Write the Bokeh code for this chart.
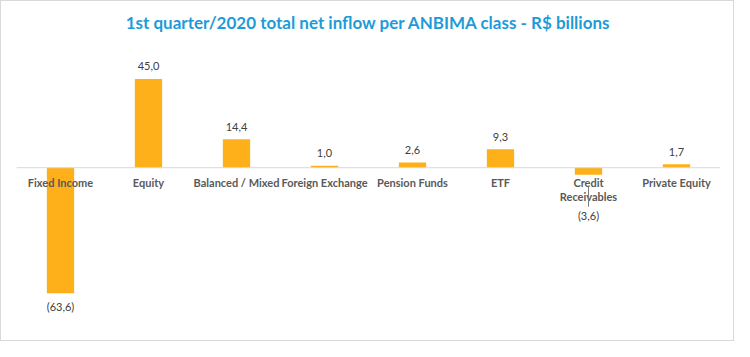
from bokeh.plotting import figure
from bokeh.models import ColumnDataSource, Range1d, FactorRange, Span
from bokeh.core.properties import value
from bokeh.embed import file_html
from bokeh.resources import INLINE

categories = ["Fixed Income", "Equity", "Balanced / Mixed", "Foreign Exchange",
              "Pension Funds", "ETF", "Credit Receivables", "Private Equity"]
display_names = ["Fixed Income", "Equity", "Balanced / Mixed", "Foreign Exchange",
                 "Pension Funds", "ETF", "Credit\nReceivables", "Private Equity"]
values = [-63.6, 45.0, 14.4, 1.0, 2.6, 9.3, -3.6, 1.7]
title_text = "1st quarter/2020 total net inflow per ANBIMA class - R$ billions"

BAR = "#FDB019"
TITLE_C = "#1E9BD7"
FONT = "Lato"

W, H = 734, 341
ZERO_Y = 166.2          # pixel row of the zero line
PXU = 1.973             # pixels per R$ billion
y_hi = ZERO_Y / PXU
y_lo = -(H - ZERO_Y) / PXU

def fmt(v):
    s = f"{abs(v):.1f}".replace(".", ",")
    return f"({s})" if v < 0 else s

labels = [fmt(v) for v in values]
offsets = []
for c, v in zip(categories, values):
    if c == "Credit Receivables":
        offsets.append(41)
    elif v < 0:
        offsets.append(13)
    else:
        offsets.append(-12.5)

src = ColumnDataSource(dict(cat=categories, val=values, lab=labels, off=offsets,
                            name=display_names, zero=[0] * len(values)))

p = figure(width=W, height=H, x_range=FactorRange(*categories, range_padding=0),
           y_range=Range1d(y_lo, y_hi), output_backend="svg", toolbar_location=None,
           min_border_left=15, min_border_right=15, min_border_top=0,
           min_border_bottom=0)
p.outline_line_color = None
p.border_fill_color = "white"
p.background_fill_color = "white"
p.axis.visible = False
p.grid.visible = False
p.styles = {"border": "1px solid #d9d9d9"}

p.add_layout(Span(location=0, dimension="width", line_color="#d9d9d9", line_width=1))

p.vbar(x="cat", top="val", bottom=0, width=0.31, source=src, fill_color=BAR, line_color=None)

p.text(x="cat", y="zero", text="name", source=src, y_offset=8,
       text_align="center", text_baseline="top", text_font=value(FONT),
       text_font_size="11px", text_font_style="bold", text_color="#595959",
       text_line_height=1.12)

p.text(x="cat", y="val", text="lab", source=src, y_offset="off",
       text_align="center", text_baseline="middle", text_font=value(FONT),
       text_font_size="11px", text_color="#404040")

# leader line for the moved Credit Receivables label
i = categories.index("Credit Receivables")
p.segment(x0=[categories[i]], x1=[categories[i]],
          y0=[values[i] - 11 / PXU], y1=[values[i] - 32 / PXU],
          line_color="#7f7f7f", line_width=1)

# chart title
p.text(x=[len(categories) / 2], y=[y_hi - 21 / PXU], text=[title_text],
       text_align="center", text_baseline="middle", text_font=value(FONT),
       text_font_size="17px", text_font_style="bold", text_color=TITLE_C)

open("out.html", "w").write(file_html(p, INLINE))
